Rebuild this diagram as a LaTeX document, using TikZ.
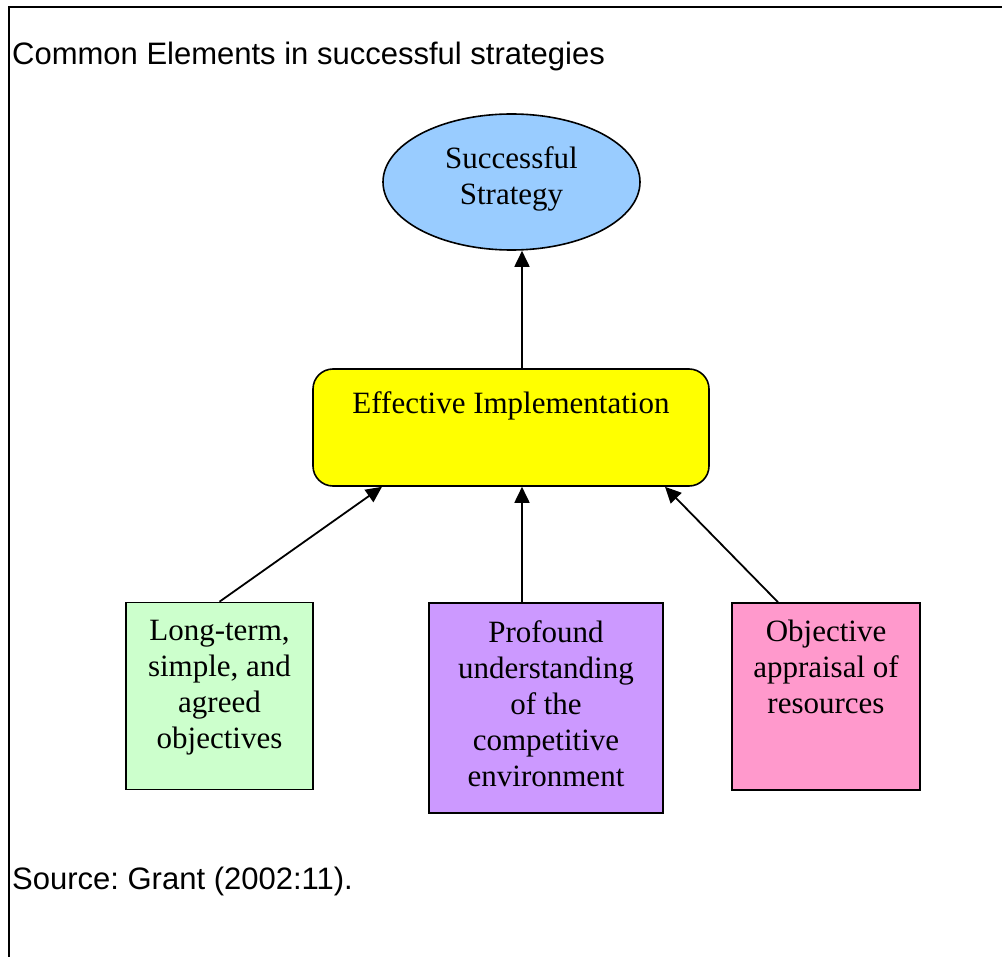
\documentclass[tikz,border=0pt]{standalone}
\usepackage{fontspec}
\setmainfont{Liberation Serif}
\newfontfamily\arialfont{Liberation Sans}
\usetikzlibrary{arrows.meta,shapes.geometric}
\definecolor{skyblue}{HTML}{99CCFF}
\definecolor{lemon}{HTML}{FFFF00}
\definecolor{mint}{HTML}{CCFFCC}
\definecolor{lilac}{HTML}{CC99FF}
\definecolor{rose}{HTML}{FF99CC}
\frenchspacing

\begin{document}
\begin{tikzpicture}[x=1pt, y=-1pt,
  box/.style={draw, line width=1.6pt, inner sep=0pt},
  txt/.style={inner sep=0pt, align=center, font=\fontsize{31}{36}\selectfont},
  sans/.style={inner sep=0pt, anchor=base west, font=\arialfont\fontsize{31}{36}\selectfont},
  arr/.style={line width=1.8pt, -{Triangle[length=16pt,width=15pt]}}]
\useasboundingbox (0,0) rectangle (1002,957);
\draw[line width=2pt] (9,957) -- (9,7) -- (1002,7);
\node[sans] (title) at (12,65) {Common Elements in successful strategies};
\node[sans] (src) at (12,889) {Source: Grant (2002:11).};

% top and middle
\node[box, ellipse, fill=skyblue, minimum width=257pt, minimum height=136pt] (succ) at (511.5,182) {};
\node[txt] (succtxt) at (511.5,179) {Successful\\Strategy};
\node[box, rounded corners=20pt, fill=lemon, minimum width=396pt, minimum height=117pt] (impl) at (511,427.5) {};
\node[txt, anchor=base] (impltxt) at (511,414) {Effective Implementation};

% the three elements
\node[box, fill=mint, minimum width=187pt, minimum height=187pt] (goals) at (219.5,696) {};
\node[txt, anchor=north] (goalstxt) at (219.5,620) {Long-term,\\simple, and\\agreed\\objectives};
\node[box, fill=lilac, minimum width=234pt, minimum height=210pt] (prof) at (546,708) {};
\node[txt, anchor=north] (proftxt) at (546,620) {Profound\\understanding\\of the\\competitive\\environment};
\node[box, fill=rose, minimum width=188pt, minimum height=187pt] (apprs) at (826,696.5) {};
\node[txt, anchor=north] (apprstxt) at (826,620) {Objective\\appraisal of\\resources};

\draw[arr] ([xshift=11pt]impl.north) -- ([xshift=10.5pt]succ.south);
\draw[arr] (goals.north) -- ([xshift=-129pt]impl.south);
\draw[arr] ([xshift=-24pt]prof.north) -- ([xshift=11pt]impl.south);
\draw[arr] ([xshift=-48pt]apprs.north) -- ([xshift=154pt]impl.south);
\end{tikzpicture}
\end{document}
